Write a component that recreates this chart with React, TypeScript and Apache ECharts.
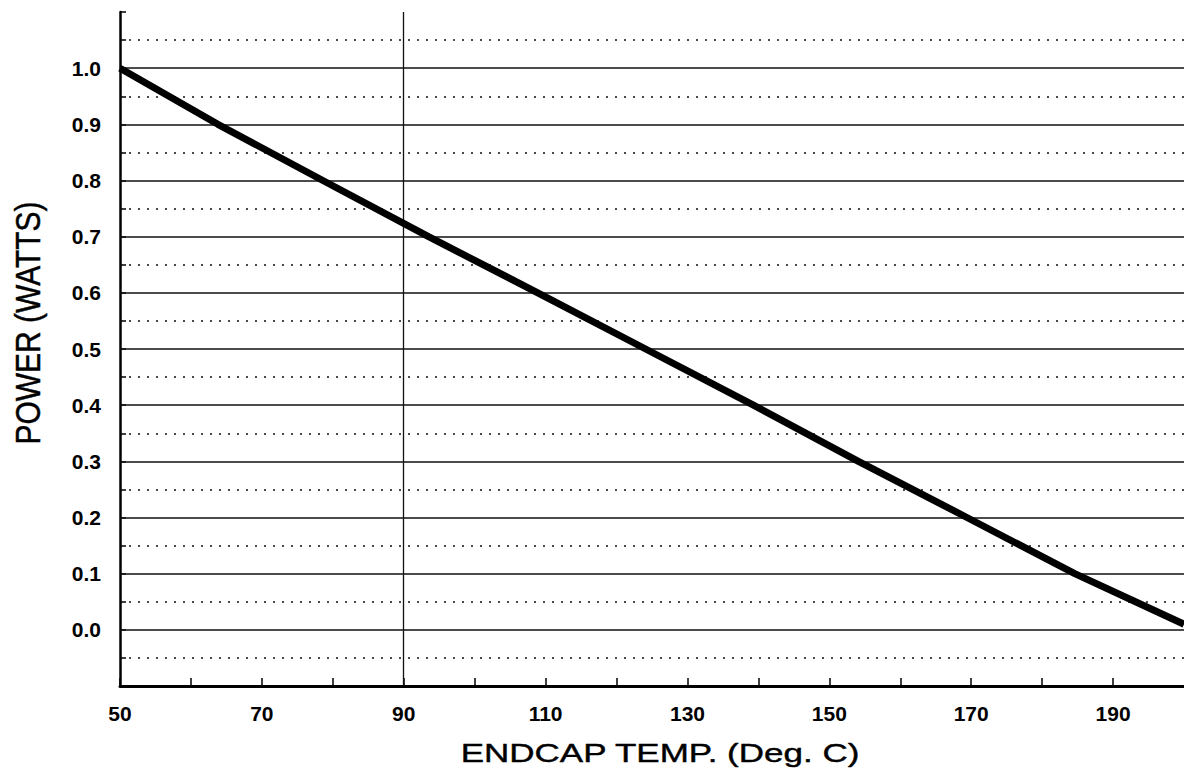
import React, { useEffect, useRef } from "react";
import * as echarts from "echarts";

// Curve (temperature where the line crosses each gridline)
const tempC = [50, 63.8, 78.6, 93.5, 108.9, 124.1, 139.3, 154.1, 169.4, 184.6, 200];
const powerW = [1.0, 0.9, 0.8, 0.7, 0.6, 0.5, 0.4, 0.3, 0.2, 0.1, 0.01];

// Horizontal rules
const solidRules = [0.0, 0.1, 0.2, 0.3, 0.4, 0.5, 0.6, 0.7, 0.8, 0.9, 1.0];
const dottedRules = [-0.05, 0.05, 0.15, 0.25, 0.35, 0.45, 0.55, 0.65, 0.75, 0.85, 0.95, 1.05];
// Vertical rule
const verticalRules = [90];

// Tick labels
const xLabelValues = [50, 70, 90, 110, 130, 150, 170, 190];
const yLabelValues = [0.0, 0.1, 0.2, 0.3, 0.4, 0.5, 0.6, 0.7, 0.8, 0.9, 1.0];

const xTitle = "ENDCAP TEMP. (Deg. C)";
const yTitle = "POWER (WATTS)";

export default function App() {
  const ref = useRef<HTMLDivElement>(null);

  useEffect(() => {
    if (!ref.current) return;
    const chart = echarts.init(ref.current, undefined, { renderer: "svg" });
    const font = "'Liberation Sans', Arial, Helvetica, sans-serif";

    const markData: any[] = [];
    solidRules.forEach((v) =>
      markData.push({ yAxis: v, lineStyle: { type: "solid", width: 1.7, color: "#111" } })
    );
    dottedRules.forEach((v) =>
      markData.push({ yAxis: v, lineStyle: { type: [2, 7], width: 1.7, color: "#111" } })
    );
    verticalRules.forEach((v) =>
      markData.push({ xAxis: v, lineStyle: { type: "solid", width: 1.3, color: "#111" } })
    );

    chart.setOption({
      animation: false,
      backgroundColor: "#ffffff",
      grid: { left: 120, right: 0, top: 12, bottom: 84, containLabel: false },
      xAxis: {
        type: "value",
        min: 50,
        max: 200,
        interval: 10,
        axisLine: { show: true, onZero: false, lineStyle: { color: "#000", width: 3 } },
        axisTick: { show: true, inside: true, length: 8, lineStyle: { color: "#000", width: 1.5 } },
        splitLine: { show: false },
        axisLabel: {
          margin: 17,
          color: "#000",
          fontFamily: font,
          fontWeight: "bold",
          fontSize: 21,
          showMaxLabel: false,
          formatter: (v: number) =>
            xLabelValues.some((x) => Math.abs(x - v) < 1e-6) ? String(Math.round(v)) : "",
        },
      },
      yAxis: {
        type: "value",
        min: -0.1,
        max: 1.1,
        interval: 0.05,
        axisLine: { show: true, onZero: false, lineStyle: { color: "#000", width: 2.5 } },
        axisTick: { show: true, inside: true, length: 6, lineStyle: { color: "#000", width: 1.5 } },
        splitLine: { show: false },
        axisLabel: {
          margin: 19,
          color: "#000",
          fontFamily: font,
          fontWeight: "bold",
          fontSize: 21,
          formatter: (v: number) =>
            yLabelValues.some((y) => Math.abs(y - v) < 1e-6) ? v.toFixed(1) : "",
        },
      },
      series: [
        {
          type: "line",
          data: tempC.map((t, i) => [t, powerW[i]]),
          showSymbol: false,
          symbol: "none",
          lineStyle: { color: "#000", width: 7 },
          z: 5,
          markLine: {
            silent: true,
            symbol: "none",
            label: { show: false },
            z: 3,
            data: markData,
          },
        },
      ],
      graphic: [
        {
          type: "text",
          x: 660,
          y: 753,
          scaleX: 1.4,
          style: {
            text: xTitle,
            fontFamily: font,
            fontSize: 25,
            fill: "#000",
            stroke: "#000",
            lineWidth: 0.4,
            align: "center",
            verticalAlign: "middle",
          },
        },
        {
          type: "text",
          x: 28,
          y: 323,
          rotation: Math.PI / 2,
          scaleY: 1.15,
          style: {
            text: yTitle,
            fontFamily: font,
            fontSize: 30,
            fill: "#000",
            stroke: "#000",
            lineWidth: 0.4,
            align: "center",
            verticalAlign: "middle",
          },
        },
      ],
    });

    return () => chart.dispose();
  }, []);

  return (
    <div
      ref={ref}
      style={{ position: "fixed", left: 0, top: 0, width: 1184, height: 770, background: "#fff" }}
    />
  );
}
